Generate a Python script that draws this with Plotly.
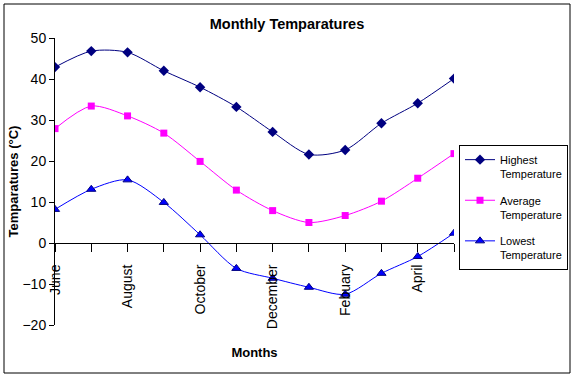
import plotly.graph_objects as go

months = ["June", "July", "August", "September", "October", "November",
          "December", "January", "Febuary", "March", "April", "May"]
tick_labels = ["June", "", "August", "", "October", "", "December", "",
               "Febuary", "", "April", ""]
highest = [42.9, 46.8, 46.5, 42.0, 38.0, 33.2, 27.1, 21.6, 22.7, 29.2, 34.1, 40.1]
average = [27.9, 33.4, 31.0, 26.8, 19.9, 12.9, 7.9, 5.0, 6.7, 10.2, 15.8, 21.8]
lowest = [8.2, 13.1, 15.4, 9.9, 2.0, -6.2, -8.6, -10.8, -12.5, -7.4, -3.3, 2.4]

FONT = "Liberation Sans, Arial, sans-serif"

fig = go.Figure()
fig.add_trace(go.Scatter(
    x=months, y=highest, name="Highest<br>Temperature", mode="lines+markers",
    line=dict(color="#000080", width=1, shape="spline", smoothing=0.8),
    marker=dict(symbol="diamond", size=8, color="#000080"),
    legendgroup="a"))
fig.add_trace(go.Scatter(
    x=months, y=average, name="Average<br>Temperature", mode="lines+markers",
    line=dict(color="#FF00FF", width=1, shape="spline", smoothing=0.8),
    marker=dict(symbol="square", size=7, color="#FF00FF"),
    legendgroup="b"))
fig.add_trace(go.Scatter(
    x=months, y=lowest, name="Lowest<br>Temperature", mode="lines+markers",
    line=dict(color="#0000FF", width=1, shape="spline", smoothing=0.8),
    marker=dict(symbol="triangle-up", size=8, color="#0000FF",
                line=dict(color="#000080", width=1)),
    legendgroup="c"))

ymin, ymax = -20, 50
fig.update_layout(
    width=574, height=377,
    margin=dict(l=55, r=120, t=38, b=52, autoexpand=False),
    paper_bgcolor="white", plot_bgcolor="white",
    font=dict(family=FONT, color="black", size=13),
    title=dict(text="<b>Monthly Temparatures</b>", x=0.5, xref="container",
               xanchor="center", y=1 - 24 / 377, yref="container",
               yanchor="middle", font=dict(size=14.5)),
    showlegend=True,
    legend=dict(x=(568 - 55) / 399, xanchor="right", y=(325 - 145) / 287,
                yanchor="top", bordercolor="black", borderwidth=1,
                bgcolor="white", font=dict(size=11), valign="top",
                tracegroupgap=9, traceorder="grouped"),
    xaxis=dict(
        type="category", range=[0, len(months) - 1],
        tickmode="array", tickvals=months, ticktext=tick_labels,
        tickangle=-90, ticks="outside", ticklen=8, tickcolor="black",
        ticklabelstandoff=7,
        showline=True, linecolor="black", linewidth=1, showgrid=False,
        zeroline=False, anchor="free", position=(0 - ymin) / (ymax - ymin),
        tickfont=dict(size=14),
        title=dict(text="<b>Months</b>", font=dict(size=13), standoff=19),
    ),
    yaxis=dict(
        range=[ymin, ymax], dtick=10, ticks="outside", ticklen=5,
        tickcolor="black", showline=True, linecolor="black", linewidth=1,
        showgrid=False, zeroline=False, tickfont=dict(size=14),
        title=dict(text="<b>Temparatures (°C)</b>", font=dict(size=13),
                   standoff=0),
    ),
    shapes=[dict(type="rect", xref="paper", yref="paper",
                 x0=(4 - 55) / 399, x1=(570 - 55) / 399,
                 y0=(325 - 373) / 287, y1=(325 - 4) / 287,
                 line=dict(color="black", width=1), fillcolor="rgba(0,0,0,0)",
                 layer="below")],
)

fig.write_html("out.html", config={"displayModeBar": False},
               post_script="document.body.style.margin='0';"
                           "document.body.style.padding='0';")
